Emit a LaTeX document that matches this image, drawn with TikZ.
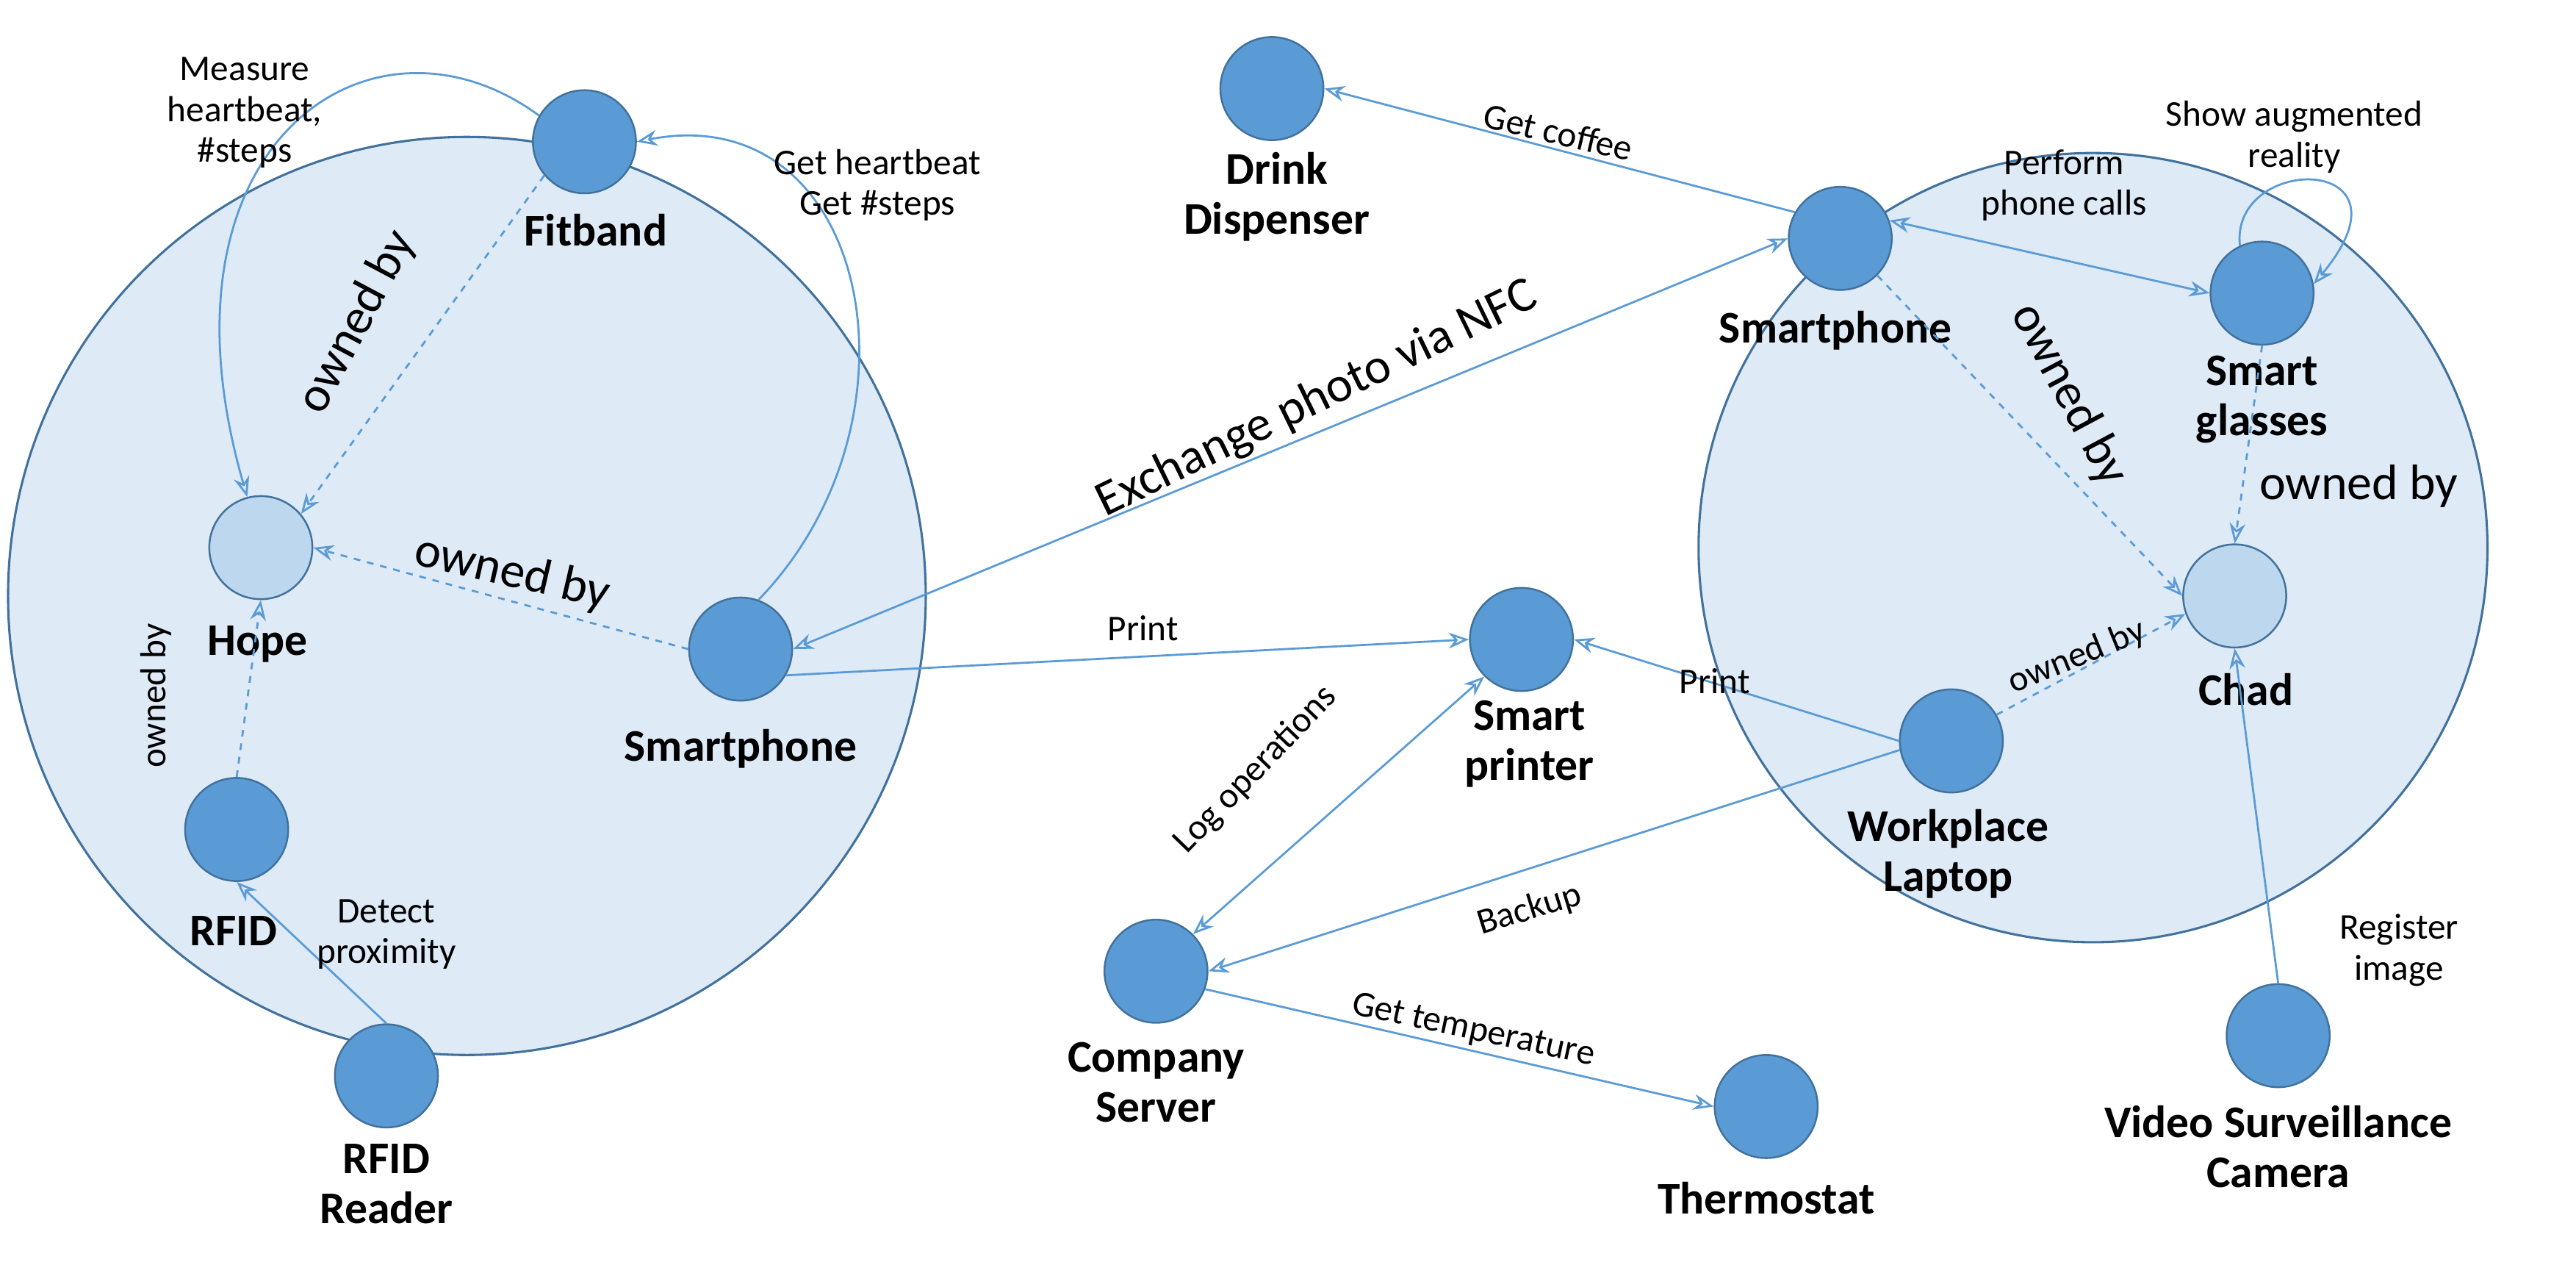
\documentclass[tikz,border=0pt]{standalone}
\usepackage{fontspec}
\setmainfont{Carlito}
\usetikzlibrary{arrows.meta}
\definecolor{nfill}{HTML}{5B9BD5}
\definecolor{nline}{HTML}{41719C}
\definecolor{lfill}{HTML}{BDD7EE}
\definecolor{bfill}{HTML}{DEEBF7}
\begin{document}
\begin{tikzpicture}[x=0.025cm,y=-0.025cm,
  dev/.style={circle,fill=nfill,draw=nline,line width=0.8pt,minimum size=1.6cm,inner sep=0},
  per/.style={circle,fill=lfill,draw=nline,line width=0.8pt,minimum size=1.6cm,inner sep=0},
  big/.style={fill=bfill,draw=nline,line width=1pt},
  nm/.style={font=\fontsize{20}{22}\selectfont\bfseries,align=center},
  lab/.style={font=\fontsize{16}{18}\selectfont,align=center,inner sep=1pt},
  own/.style={font=\fontsize{22}{24}\selectfont,inner sep=1pt},
  ar/.style={draw=nfill,line width=0.9pt,-{Stealth[length=9pt,width=7pt,open]}},
  dar/.style={ar,dashed},
  bar/.style={ar,{Stealth[length=9pt,width=7pt,open]}-{Stealth[length=9pt,width=7pt,open]}}]
\useasboundingbox (0,0) rectangle (1600,792);
\draw[big] (290,370) circle [radius=285];
\draw[big] (1300,340) circle [radius=245];
% nodes
\node[dev] (fit) at (363,88) {}; \node[nm] (fitl) at (370,143) {Fitband};
\node[per] (hope) at (162,340) {}; \node[nm] (hopel) at (160,400) {Hope};
\node[dev] (sl) at (460,403) {}; \node[nm] (sll) at (460,465) {Smartphone};
\node[dev] (rfid) at (147,515) {}; \node[nm] (rfidl) at (145,578) {RFID};
\node[dev] (rr) at (240,668) {}; \node[nm] (rrl) at (240,735) {RFID\\Reader};
\node[dev] (dd) at (790,55) {}; \node[nm] (ddl) at (793,122) {Drink\\Dispenser};
\node[dev] (sr) at (1143,148) {}; \node[nm] (srl) at (1140,205) {Smartphone};
\node[dev] (sg) at (1405,182) {}; \node[nm] (sgl) at (1405,248) {Smart\\glasses};
\node[per] (chad) at (1388,370) {}; \node[nm] (chadl) at (1395,428) {Chad};
\node[dev] (sp) at (945,397) {}; \node[nm] (spl) at (950,462) {Smart\\printer};
\node[dev] (wl) at (1212,460) {}; \node[nm] (wll) at (1210,530) {Workplace\\Laptop};
\node[dev] (cs) at (718,603) {}; \node[nm] (csl) at (718,672) {Company\\Server};
\node[dev] (th) at (1097,687) {}; \node[nm] (thl) at (1097,744) {Thermostat};
\node[dev] (vc) at (1415,643) {}; \node[nm] (vcl) at (1415,712) {Video Surveillance\\Camera};
% edges
\draw[ar] (fit.150) .. controls (230,-5) and (90,90) .. (hope.105);
\node[lab] (l1) at (152,70) {Measure\\heartbeat,\\\#steps};
\draw[dar] (fit.220) -- (hope.40);
\node[own,rotate=62] (l2) at (222,200) {owned by};
\draw[ar] (sl.70) .. controls (580,260) and (540,60) .. (fit.east);
\node[lab] (l3) at (545,115) {Get heartbeat\\Get \#steps};
\draw[dar] (sl.west) -- (hope.east);
\node[own,rotate=-13] (l4) at (318,356) {owned by};
\draw[dar] (rfid.north) -- (hope.south);
\node[lab,rotate=90] (l5) at (97,432) {owned by};
\draw[ar] (rr.north) -- (rfid.south);
\node[lab] (l6) at (240,580) {Detect\\proximity};
\draw[bar] (sl.east) -- (sr.west);
\node[own,rotate=26] (l7) at (818,248) {Exchange photo via NFC};
\draw[ar] (sl.-30) -- (sp.west);
\node[lab] (l8) at (710,390) {Print};
\draw[ar] (sr.150) -- (dd.east);
\node[lab,rotate=-13] (l9) at (968,82) {Get coffee};
\draw[bar] (sr.20) -- (sg.west);
\node[lab] (l10) at (1282,115) {Perform\\phone calls};
\draw[ar] (sg.115) .. controls (1385,95) and (1505,95) .. (sg.10);
\node[lab] (l11) at (1425,85) {Show augmented\\reality};
\draw[dar] (sr.-45) -- (chad.west);
\node[own,rotate=-62] (l12) at (1285,245) {owned by};
\draw[dar] (sg.south) -- (chad.north);
\node[own] (l13) at (1465,302) {owned by};
\draw[dar] (wl.30) -- (chad.200);
\node[lab,rotate=22] (l14) at (1290,408) {owned by};
\draw[ar] (wl.west) -- (sp.east);
\node[lab] (l15) at (1065,423) {Print};
\draw[ar] (wl.190) -- (cs.east);
\node[lab,rotate=17] (l16) at (950,565) {Backup};
\draw[bar] (cs.north east) -- (sp.south west);
\node[lab,rotate=46] (l17) at (780,478) {Log operations};
\draw[ar] (cs.-20) -- (th.west);
\node[lab,rotate=-12] (l18) at (915,640) {Get temperature};
\draw[ar] (vc.north) -- (chad.south);
\node[lab] (l19) at (1490,590) {Register\\image};
\end{tikzpicture}
\end{document}
